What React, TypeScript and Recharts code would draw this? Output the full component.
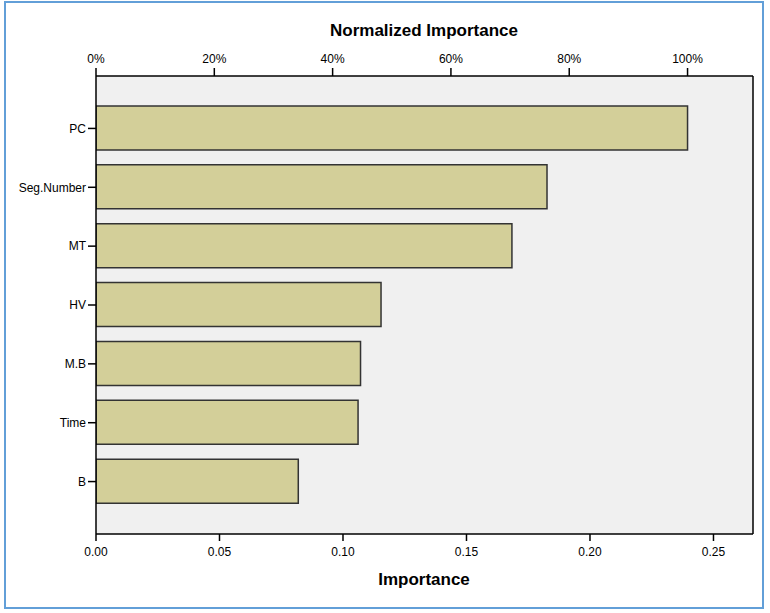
import React from "react";
import {
  BarChart,
  Bar,
  XAxis,
  YAxis,
  CartesianGrid,
  ReferenceLine,
} from "recharts";

// Predictor importance (SPSS-style chart)
const predictors = ["PC", "Seg.Number", "MT", "HV", "M.B", "Time", "B"];
const importance = [0.2395, 0.1826, 0.1684, 0.1154, 0.1071, 0.1061, 0.0819];

const importanceTicks = [0, 0.05, 0.1, 0.15, 0.2, 0.25];
const normalizedTicks = [0, 0.2, 0.4, 0.6, 0.8, 1.0];
const xMax = 0.266;

const maxImportance = Math.max(...importance);

const data = predictors.map((name, i) => ({ name, importance: importance[i] }));

const FONT = "'Liberation Sans', Arial, sans-serif";
const tickStyle = { fontSize: 12, fill: "#000", fontFamily: FONT };
const axisLine = { stroke: "#000", strokeWidth: 1.5 };

export default function App() {
  return (
    <div
      style={{
        position: "absolute",
        left: 0,
        top: 0,
        width: 770,
        height: 613,
        background: "#fff",
        fontFamily: FONT,
      }}
    >
      <div
        style={{
          position: "absolute",
          left: 4,
          top: 1,
          width: 760,
          height: 608,
          boxSizing: "border-box",
          border: "2px solid #629fd8",
        }}
      />
      <div
        style={{
          position: "absolute",
          left: 274,
          top: 22,
          width: 300,
          textAlign: "center",
          fontSize: 17,
          lineHeight: "17px",
          fontWeight: "bold",
          color: "#000",
        }}
      >
        Normalized Importance
      </div>
      <div
        style={{
          position: "absolute",
          left: 274,
          top: 571,
          width: 300,
          textAlign: "center",
          fontSize: 17,
          lineHeight: "17px",
          fontWeight: "bold",
          color: "#000",
        }}
      >
        Importance
      </div>
      <div style={{ position: "absolute", left: 0, top: 0 }}>
        <BarChart
          width={770}
          height={613}
          data={data}
          layout="vertical"
          margin={{ top: 46, right: 17, bottom: 49, left: 6 }}
        >
          <CartesianGrid fill="#f0f0f0" horizontal={false} vertical={false} />
          <XAxis
            xAxisId="bottom"
            type="number"
            domain={[0, xMax]}
            ticks={importanceTicks}
            allowDataOverflow
            height={30}
            tick={tickStyle}
            tickSize={7}
            tickMargin={6}
            tickLine={axisLine}
            axisLine={axisLine}
            tickFormatter={(v: number) => v.toFixed(2)}
          />
          <XAxis
            xAxisId="top"
            orientation="top"
            type="number"
            domain={[0, xMax]}
            ticks={normalizedTicks.map((f) => f * maxImportance)}
            allowDataOverflow
            height={30}
            tick={tickStyle}
            tickSize={8}
            tickMargin={5}
            tickLine={axisLine}
            axisLine={axisLine}
            tickFormatter={(v: number) => `${Math.round((v / maxImportance) * 100)}%`}
          />
          <YAxis
            type="category"
            dataKey="name"
            width={90}
            padding={{ top: 23, bottom: 23 }}
            tick={tickStyle}
            tickSize={8}
            tickMargin={2}
            tickLine={axisLine}
            axisLine={axisLine}
          />
          <ReferenceLine
            xAxisId="bottom"
            x={xMax}
            stroke="#000"
            strokeWidth={1.5}
          />
          <Bar
            xAxisId="bottom"
            dataKey="importance"
            barSize={44}
            fill="#d3cf99"
            stroke="#333"
            strokeWidth={1.5}
            isAnimationActive={false}
          />
        </BarChart>
      </div>
    </div>
  );
}
